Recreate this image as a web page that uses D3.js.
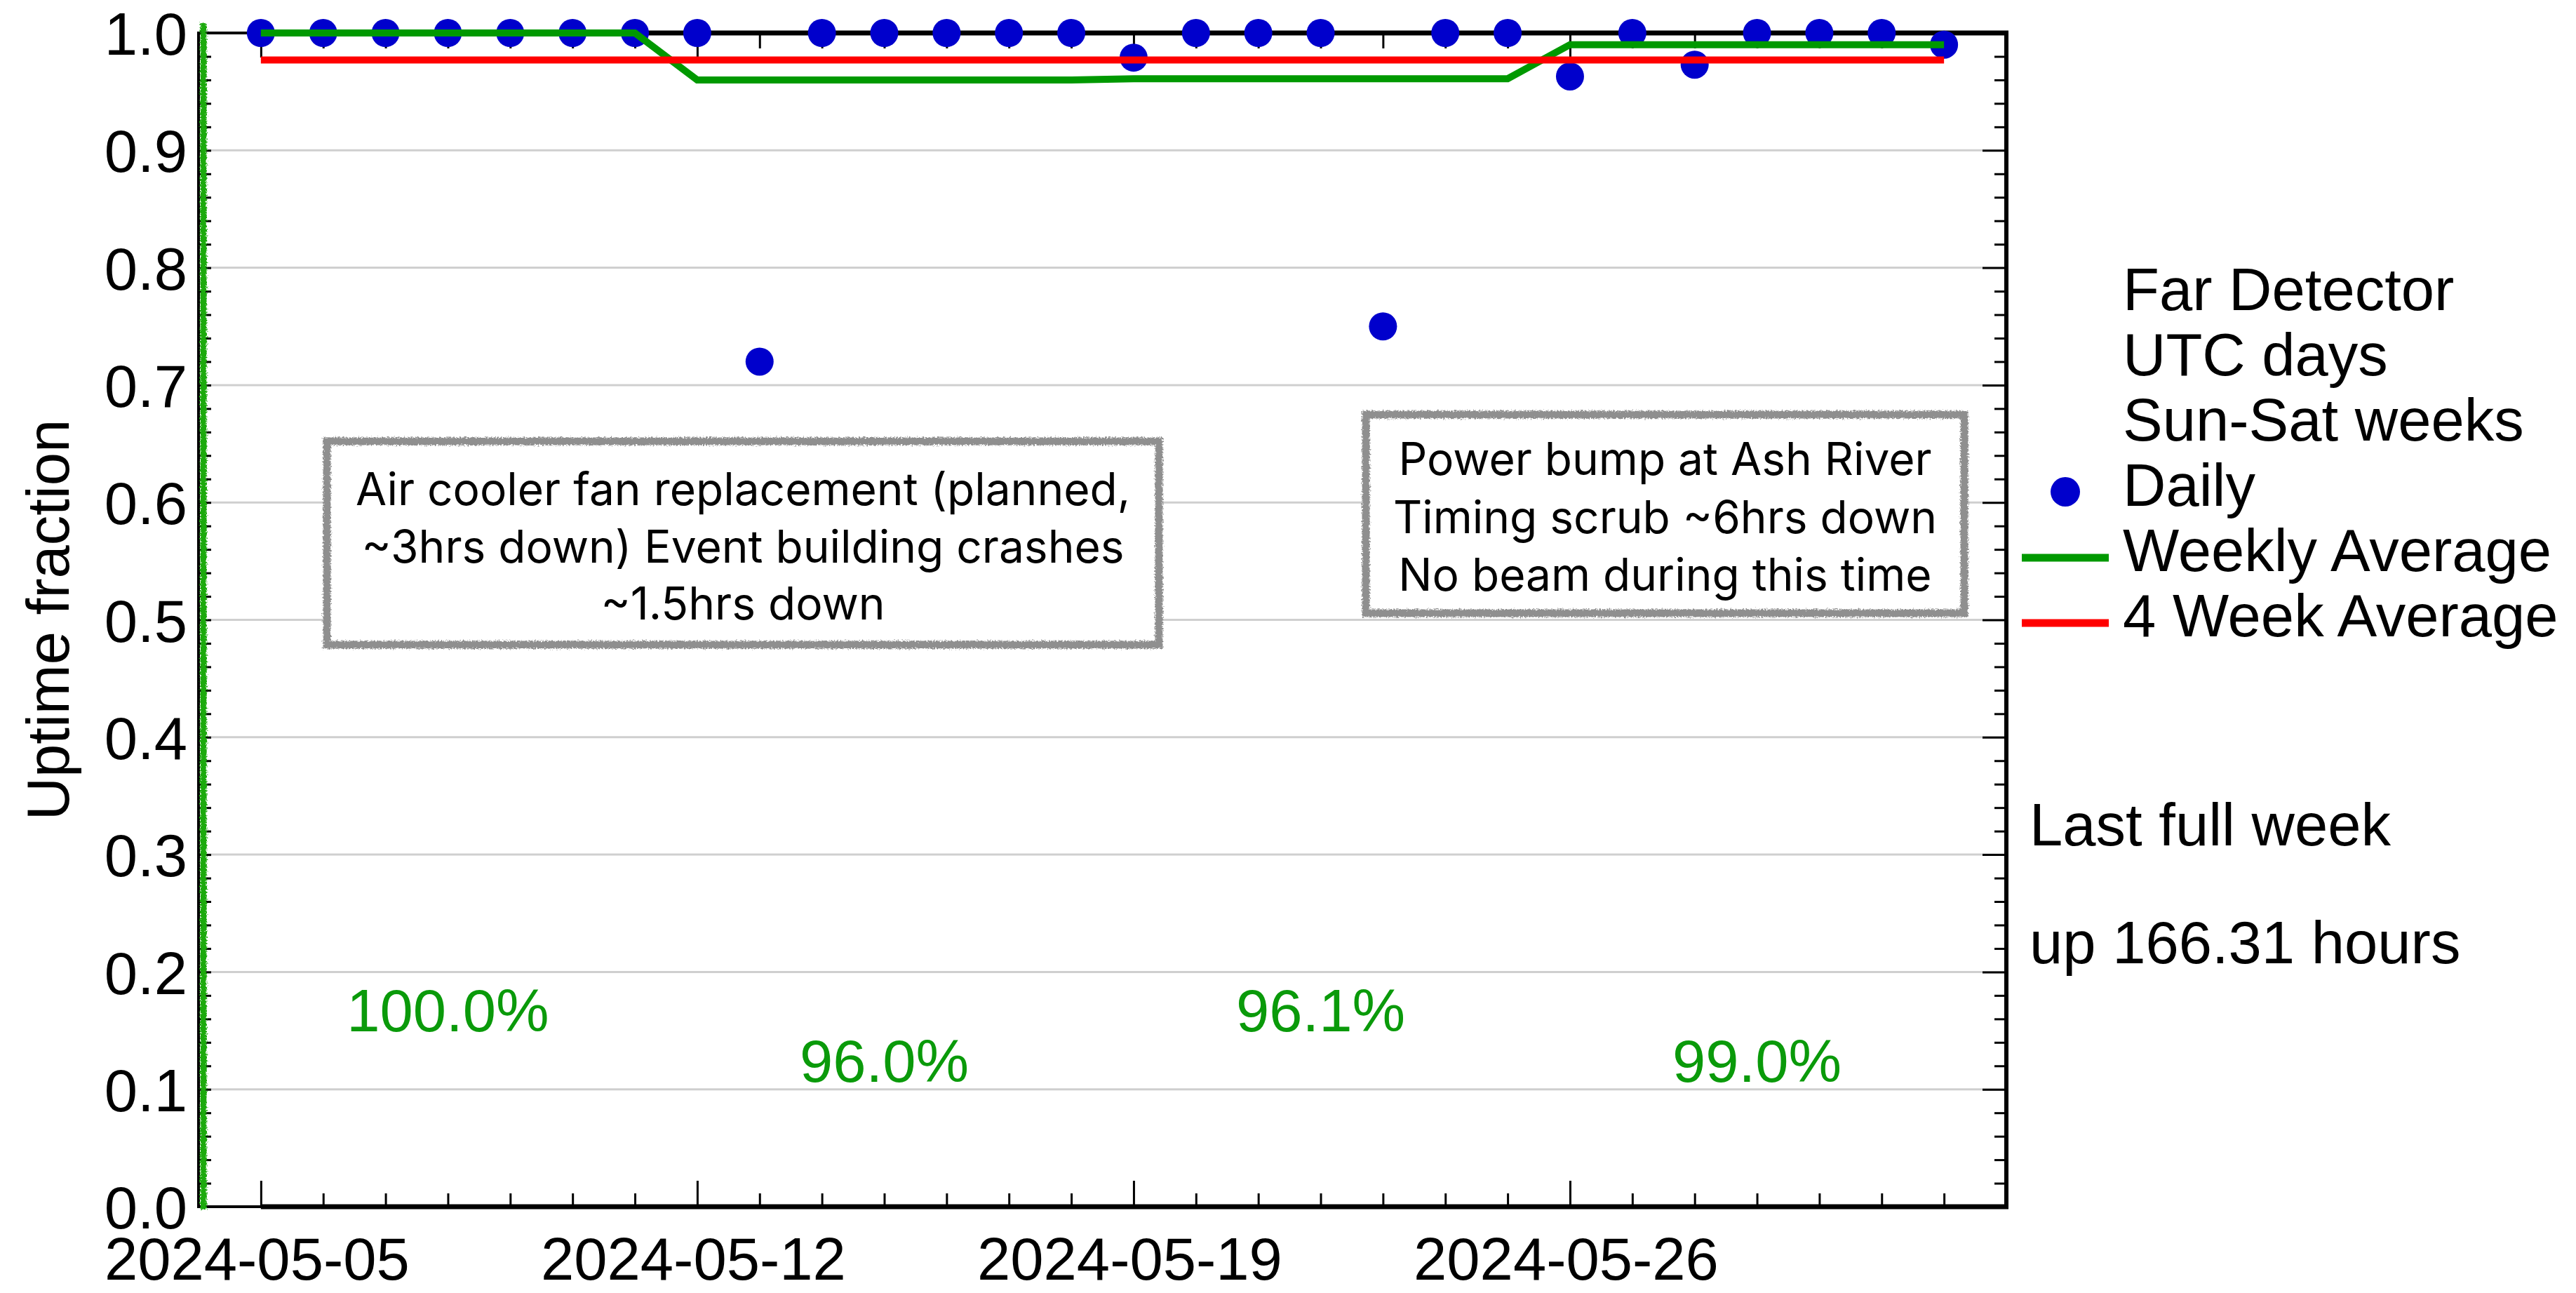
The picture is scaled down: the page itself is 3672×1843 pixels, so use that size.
<!DOCTYPE html>
<html>
<head>
<meta charset="utf-8">
<script src="https://cdn.jsdelivr.net/npm/d3@7"></script>
<style>
  html, body { margin: 0; padding: 0; background: #ffffff; }
  svg { display: block; }
</style>
</head>
<body>
<svg id="chart" width="3672" height="1843"></svg>
<script>
// ---------------- data ----------------
const days = [
  "2024-05-05","2024-05-06","2024-05-07","2024-05-08","2024-05-09","2024-05-10","2024-05-11",
  "2024-05-12","2024-05-13","2024-05-14","2024-05-15","2024-05-16","2024-05-17","2024-05-18",
  "2024-05-19","2024-05-20","2024-05-21","2024-05-22","2024-05-23","2024-05-24","2024-05-25",
  "2024-05-26","2024-05-27","2024-05-28","2024-05-29","2024-05-30","2024-05-31","2024-06-01"
];
const daily = [
  1.0, 1.0, 1.0, 1.0, 1.0, 1.0, 1.0,
  1.0, 0.720, 1.0, 1.0, 1.0, 1.0, 1.0,
  0.979, 1.0, 1.0, 1.0, 0.750, 1.0, 1.0,
  0.963, 1.0, 0.973, 1.0, 1.0, 1.0, 0.990
];
const weekStarts = ["2024-05-05","2024-05-12","2024-05-19","2024-05-26"];
const weekly = [1.000, 0.960, 0.961, 0.990];
const weekLabels = ["100.0%","96.0%","96.1%","99.0%"];
const fourWeek = 0.977;
const xTickLabels = ["2024-05-05","2024-05-12","2024-05-19","2024-05-26"];
const yTicks = [0.0,0.1,0.2,0.3,0.4,0.5,0.6,0.7,0.8,0.9,1.0];
const yMinorTicks = d3.range(0, 51).map(i => i / 50).filter(v => Math.round(v * 50) % 5 !== 0);
const legendTitle = ["Far Detector","UTC days","Sun-Sat weeks"];
const legendItems = ["Daily","Weekly Average","4 Week Average"];
const sideNote = ["Last full week","up 166.31 hours"];
const notes = [
  {start: "2024-05-05", end: "2024-05-11", lines: ["Air cooler fan replacement (planned,","~3hrs down) Event building crashes","~1.5hrs down"]},
  {start: "2024-05-22", end: "2024-06-01", lines: ["Power bump at Ash River","Timing scrub ~6hrs down","No beam during this time"]}
];
const xDomain = ["2024-05-04","2024-06-02"];

// ---------------- setup ----------------
const parse = d3.utcParse("%Y-%m-%d");
const W = 3672, H = 1843;
const L = 283, R = 2860, T = 47, B = 1720;
const HELV = "'Liberation Sans', Arial, Helvetica, sans-serif";
const FS = 85;

const svg = d3.select("#chart");
const x = d3.scaleUtc().domain(xDomain.map(parse)).range([L, R]);
const y = d3.scaleLinear().domain([0, 1]).range([B, T]);

const defs = svg.append("defs");
const rough = defs.append("filter").attr("id", "rough")
  .attr("filterUnits", "userSpaceOnUse").attr("x", 0).attr("y", 0).attr("width", W).attr("height", H);
rough.append("feTurbulence").attr("type", "fractalNoise").attr("baseFrequency", 0.45)
  .attr("numOctaves", 2).attr("seed", 7).attr("result", "noise");
rough.append("feDisplacementMap").attr("in", "SourceGraphic").attr("in2", "noise")
  .attr("scale", 7).attr("xChannelSelector", "R").attr("yChannelSelector", "G");

// gridlines
svg.append("g").selectAll("line")
  .data(yTicks.filter(v => v > 0 && v < 1))
  .join("line")
  .attr("x1", L).attr("x2", R)
  .attr("y1", d => y(d)).attr("y2", d => y(d))
  .attr("stroke", "#cfcfcf").attr("stroke-width", 3);

// frame
svg.append("rect").attr("x", L).attr("y", T).attr("width", R - L).attr("height", B - T)
  .attr("fill", "none").attr("stroke", "#000").attr("stroke-width", 4);
const d0 = parse(days[0]);
svg.append("line").attr("x1", x(d0)).attr("x2", R + 3).attr("y1", B).attr("y2", B)
  .attr("stroke", "#000").attr("stroke-width", 7);
svg.append("line").attr("x1", x(d0)).attr("x2", R + 3).attr("y1", T).attr("y2", T)
  .attr("stroke", "#000").attr("stroke-width", 7);
svg.append("line").attr("x1", R).attr("x2", R).attr("y1", T - 3).attr("y2", B + 3)
  .attr("stroke", "#000").attr("stroke-width", 6);

const dayDates = days.map(parse);
const weekDates = xTickLabels.map(parse);
const minorDays = dayDates.filter(d => !weekDates.some(w => +w === +d));

function styleAxis(g) {
  g.select(".domain").remove();
  g.selectAll(".tick line").attr("stroke", "#000").attr("stroke-width", 3);
}

// bottom ticks (inward)
svg.append("g").attr("transform", `translate(0,${B})`)
  .call(d3.axisTop(x).tickValues(minorDays).tickSize(19).tickFormat("")).call(styleAxis);
svg.append("g").attr("transform", `translate(0,${B})`)
  .call(d3.axisTop(x).tickValues(weekDates).tickSize(37).tickFormat("")).call(styleAxis);
// top ticks (inward)
svg.append("g").attr("transform", `translate(0,${T})`)
  .call(d3.axisBottom(x).tickValues(minorDays).tickSize(22).tickFormat("")).call(styleAxis);
svg.append("g").attr("transform", `translate(0,${T})`)
  .call(d3.axisBottom(x).tickValues(weekDates).tickSize(35).tickFormat("")).call(styleAxis);
// x labels
const xl = svg.append("g").attr("transform", `translate(0,${B})`)
  .call(d3.axisBottom(x).tickValues(weekDates).tickSize(0).tickFormat(d3.utcFormat("%Y-%m-%d")));
xl.select(".domain").remove();
xl.selectAll("text").attr("y", 104).attr("dy", 0).attr("dx", -6)
  .attr("font-family", HELV).attr("font-size", FS).attr("fill", "#000");

// right ticks (inward)
svg.append("g").attr("transform", `translate(${R},0)`)
  .call(d3.axisLeft(y).tickValues(yMinorTicks).tickSize(17).tickFormat("")).call(styleAxis);
svg.append("g").attr("transform", `translate(${R},0)`)
  .call(d3.axisLeft(y).tickValues(yTicks.filter(v => v > 0 && v < 1)).tickSize(34).tickFormat("")).call(styleAxis);
// left ticks (inward)
svg.append("g").attr("transform", `translate(${L},0)`)
  .call(d3.axisRight(y).tickValues(yMinorTicks.concat(yTicks)).tickSize(18).tickFormat("")).call(styleAxis);
// y labels
const yl = svg.append("g").attr("transform", `translate(${L},0)`)
  .call(d3.axisLeft(y).tickValues(yTicks).tickSize(0).tickFormat(d3.format(".1f")));
yl.select(".domain").remove();
yl.selectAll("text").attr("x", -16).attr("dy", "0.36em")
  .attr("font-family", HELV).attr("font-size", FS).attr("fill", "#000");

// y title
svg.append("text").attr("transform", `translate(98,${(T + B) / 2 + 0}) rotate(-90)`)
  .attr("text-anchor", "middle").attr("font-family", HELV).attr("font-size", FS)
  .attr("fill", "#000").text("Uptime fraction");

// green vertical scribble line at start of range
svg.append("line").attr("x1", x.range()[0] + 7).attr("x2", x.range()[0] + 7)
  .attr("y1", T - 14).attr("y2", B + 4)
  .attr("stroke", "#1faa10").attr("stroke-width", 9).attr("filter", "url(#rough)");

// daily points
svg.append("g").selectAll("circle")
  .data(days.map((d, i) => ({date: parse(d), v: daily[i]})))
  .join("circle")
  .attr("cx", d => x(d.date)).attr("cy", d => y(d.v)).attr("r", 20)
  .attr("fill", "#0000cc");

// weekly average line (each day carries its week's average)
const weekOf = d => weekStarts.map(parse).filter(w => w <= d).length - 1;
const weeklyPts = dayDates.map(d => ({date: d, v: weekly[weekOf(d)]}));
svg.append("path").datum(weeklyPts)
  .attr("d", d3.line().x(d => x(d.date)).y(d => y(d.v)))
  .attr("fill", "none").attr("stroke", "#009900").attr("stroke-width", 10);

// 4 week average
const fourPts = [dayDates[0], dayDates[dayDates.length - 1]].map(d => ({date: d, v: fourWeek}));
svg.append("path").datum(fourPts)
  .attr("d", d3.line().x(d => x(d.date)).y(d => y(d.v)))
  .attr("fill", "none").attr("stroke", "#ff0000").attr("stroke-width", 10);

// weekly percentage labels
svg.append("g").selectAll("text")
  .data(weekStarts.map((w, i) => ({date: d3.utcDay.offset(parse(w), 3), label: weekLabels[i], i})))
  .join("text")
  .attr("x", d => x(d.date)).attr("y", d => d.i % 2 === 0 ? 1470 : 1542)
  .attr("text-anchor", "middle").attr("font-family", HELV).attr("font-size", FS)
  .attr("fill", "#0a9a0a").text(d => d.label);

// annotation boxes
const boxes = [
  {x0: 466, x1: 1652, y0: 629, y1: 919, base: [720, 802, 883]},
  {x0: 1947, x1: 2800, y0: 591, y1: 874, base: [677, 760, 842]}
];
notes.forEach((n, i) => {
  const b = boxes[i];
  svg.append("rect").attr("x", b.x0).attr("y", b.y0)
    .attr("width", b.x1 - b.x0).attr("height", b.y1 - b.y0)
    .attr("fill", "#fff").attr("stroke", "#8f8f8f").attr("stroke-width", 11)
    .attr("filter", "url(#rough)");
  svg.append("g").selectAll("text").data(n.lines).join("text")
    .attr("x", (b.x0 + b.x1) / 2).attr("y", (d, j) => b.base[j])
    .attr("text-anchor", "middle").attr("font-family", "Inter, 'Noto Sans', sans-serif")
    .attr("font-size", 64).attr("fill", "#000").text(d => d);
});

// legend
const LX = 3026;
svg.append("g").selectAll("text").data(legendTitle.concat(legendItems)).join("text")
  .attr("x", LX).attr("y", (d, i) => 442 + i * 93)
  .attr("font-family", HELV).attr("font-size", FS).attr("fill", "#000").text(d => d);
svg.append("circle").attr("cx", 2944).attr("cy", 442 + 3 * 93 - 20).attr("r", 21).attr("fill", "#0000cc");
svg.append("line").attr("x1", 2882).attr("x2", 3006).attr("y1", 442 + 4 * 93 - 19).attr("y2", 442 + 4 * 93 - 19)
  .attr("stroke", "#009900").attr("stroke-width", 11);
svg.append("line").attr("x1", 2882).attr("x2", 3006).attr("y1", 442 + 5 * 93 - 19).attr("y2", 442 + 5 * 93 - 19)
  .attr("stroke", "#ff0000").attr("stroke-width", 11);

// side note
svg.append("g").selectAll("text").data(sideNote).join("text")
  .attr("x", 2893).attr("y", (d, i) => i === 0 ? 1205 : 1373)
  .attr("font-family", HELV).attr("font-size", FS).attr("fill", "#000").text(d => d);
</script>
</body>
</html>
